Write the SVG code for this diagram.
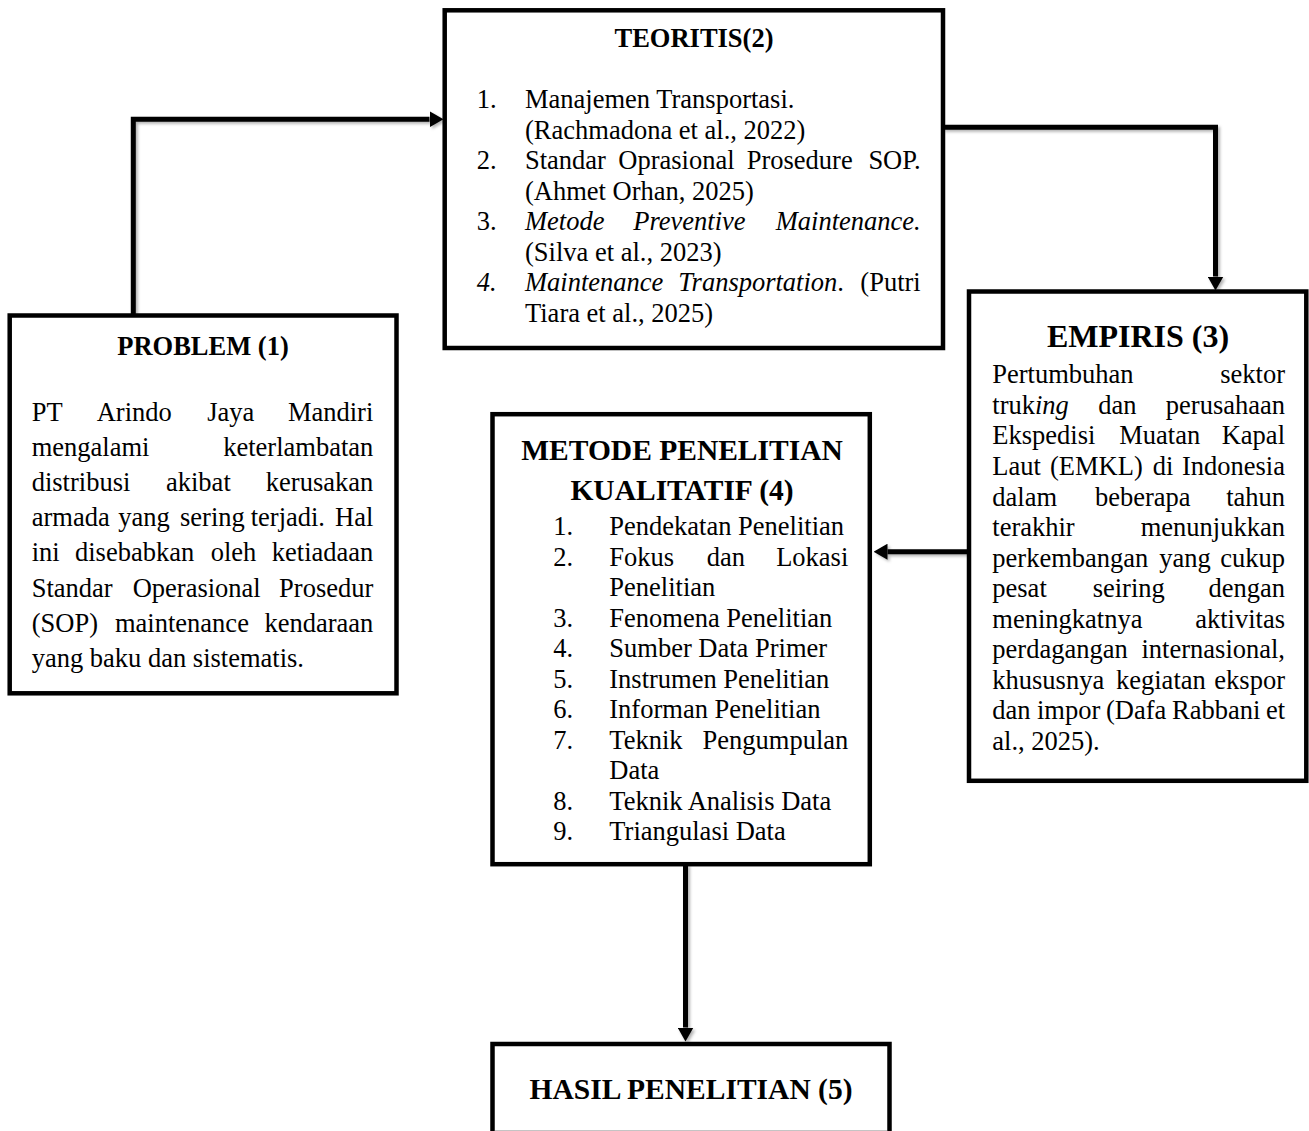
<svg xmlns="http://www.w3.org/2000/svg" width="1309" height="1131" viewBox="0 0 1309 1131">
<style>
.box{fill:#fff;stroke:#000;stroke-width:4.5}
.t{font-family:"Liberation Serif","Times New Roman",serif;font-size:26.5px;fill:#000}
.b{font-weight:bold}
.i{font-style:italic}
.e{text-anchor:end}
.m{text-anchor:middle}
.c{fill:none;stroke:#000;stroke-width:5;stroke-linejoin:miter}
</style>
<defs>
<marker id="ah" markerUnits="userSpaceOnUse" viewBox="0 0 14 16" refX="0" refY="8" markerWidth="14" markerHeight="16" orient="auto">
<path d="M0,0 L14,8 L0,16 z" fill="#000"/>
</marker>
<filter id="sh" x="-10%" y="-10%" width="120%" height="120%">
<feDropShadow dx="2" dy="2" stdDeviation="1.5" flood-color="#000" flood-opacity="0.3"/>
</filter>
</defs>
<rect width="1309" height="1131" fill="#fff"/>

<g id="connectors" filter="url(#sh)">
<path class="c" d="M133.3,315 V119.3 H429.5" marker-end="url(#ah)"/>
<path class="c" d="M943,127.3 H1215.5 V276.5" marker-end="url(#ah)"/>
<path class="c" d="M968,551.7 H887.5" marker-end="url(#ah)"/>
<path class="c" d="M685.5,864 V1027.5" marker-end="url(#ah)"/>
</g>

<g id="teoritis">
<rect class="box" x="444.7" y="10.3" width="498.3" height="337.7"/>
<text class="t b m" x="694" y="47.3">TEORITIS(2)</text>
<text class="t" x="476.7" y="108.3">1.</text>
<text class="t" x="525" y="108.3">Manajemen Transportasi.</text>
<text class="t" x="525" y="138.8">(Rachmadona et al., 2022)</text>
<text class="t" x="476.7" y="169.3">2.</text>
<text class="t" y="169.3"><tspan x="525">Standar</tspan><tspan x="618.3">Oprasional</tspan><tspan x="746.7">Prosedure</tspan><tspan class="e" x="920.7">SOP.</tspan></text>
<text class="t" x="525" y="199.8">(Ahmet Orhan, 2025)</text>
<text class="t" x="476.7" y="230.3">3.</text>
<text class="t i" y="230.3"><tspan x="525">Metode</tspan><tspan x="633.3">Preventive</tspan><tspan class="e" x="920.7">Maintenance.</tspan></text>
<text class="t" x="525" y="260.8">(Silva et al., 2023)</text>
<text class="t i" x="476.7" y="291.3">4.</text>
<text class="t" y="291.3"><tspan class="i" x="525">Maintenance</tspan><tspan class="i" x="678.3">Transportation</tspan><tspan>.</tspan><tspan class="e" x="920.7">(Putri</tspan></text>
<text class="t" x="525" y="321.8">Tiara et al., 2025)</text>
</g>

<g id="problem">
<rect class="box" x="9.7" y="315.5" width="386.8" height="377.8"/>
<text class="t b m" x="203" y="354.5">PROBLEM (1)</text>
<text class="t" y="421"><tspan x="31.7">PT</tspan><tspan x="96.7">Arindo</tspan><tspan x="207.3">Jaya</tspan><tspan class="e" x="373.3">Mandiri</tspan></text>
<text class="t" y="456.1"><tspan x="31.7">mengalami</tspan><tspan class="e" x="373.3">keterlambatan</tspan></text>
<text class="t" y="491.2"><tspan x="31.7">distribusi</tspan><tspan x="166">akibat</tspan><tspan class="e" x="373.3">kerusakan</tspan></text>
<text class="t" y="526.3"><tspan x="31.7">armada</tspan><tspan x="118.3">yang</tspan><tspan x="180">sering</tspan><tspan x="250.7">terjadi.</tspan><tspan class="e" x="373.3">Hal</tspan></text>
<text class="t" y="561.4"><tspan x="31.7">ini</tspan><tspan x="75">disebabkan</tspan><tspan x="210.7">oleh</tspan><tspan class="e" x="373.3">ketiadaan</tspan></text>
<text class="t" y="596.5"><tspan x="31.7">Standar</tspan><tspan x="132.7">Operasional</tspan><tspan class="e" x="373.3">Prosedur</tspan></text>
<text class="t" y="631.6"><tspan x="31.7">(SOP)</tspan><tspan x="115">maintenance</tspan><tspan class="e" x="373.3">kendaraan</tspan></text>
<text class="t" x="31.7" y="666.7">yang baku dan sistematis.</text>
</g>

<g id="empiris">
<rect class="box" x="969" y="291.5" width="337.3" height="489.3"/>
<text class="t b m" x="1138" y="346.7" style="font-size:32px">EMPIRIS (3)</text>
<text class="t" y="383.3"><tspan x="992.3">Pertumbuhan</tspan><tspan class="e" x="1285">sektor</tspan></text>
<text class="t" y="413.9"><tspan x="992.3">truk</tspan><tspan class="i">ing</tspan><tspan x="1098.3">dan</tspan><tspan class="e" x="1285">perusahaan</tspan></text>
<text class="t" y="444.4"><tspan x="992.3">Ekspedisi</tspan><tspan x="1119.3">Muatan</tspan><tspan class="e" x="1285">Kapal</tspan></text>
<text class="t" y="475"><tspan x="992.3">Laut</tspan><tspan x="1050">(EMKL)</tspan><tspan x="1152.7">di</tspan><tspan class="e" x="1285">Indonesia</tspan></text>
<text class="t" y="505.5"><tspan x="992.3">dalam</tspan><tspan x="1095">beberapa</tspan><tspan class="e" x="1285">tahun</tspan></text>
<text class="t" y="536.1"><tspan x="992.3">terakhir</tspan><tspan class="e" x="1285">menunjukkan</tspan></text>
<text class="t" y="566.6"><tspan x="992.3">perkembangan</tspan><tspan x="1159.3">yang</tspan><tspan class="e" x="1285">cukup</tspan></text>
<text class="t" y="597.2"><tspan x="992.3">pesat</tspan><tspan x="1092.7">seiring</tspan><tspan class="e" x="1285">dengan</tspan></text>
<text class="t" y="627.7"><tspan x="992.3">meningkatnya</tspan><tspan class="e" x="1285">aktivitas</tspan></text>
<text class="t" y="658.3"><tspan x="992.3">perdagangan</tspan><tspan class="e" x="1285">internasional,</tspan></text>
<text class="t" y="688.8"><tspan x="992.3">khususnya</tspan><tspan x="1116">kegiatan</tspan><tspan class="e" x="1285">ekspor</tspan></text>
<text class="t" y="719.4"><tspan x="992.3">dan</tspan><tspan x="1037">impor</tspan><tspan x="1106">(Dafa</tspan><tspan x="1172">Rabbani</tspan><tspan class="e" x="1285">et</tspan></text>
<text class="t" x="992.3" y="749.9">al., 2025).</text>
</g>

<g id="metode">
<rect class="box" x="492.5" y="414.2" width="377.3" height="450"/>
<text class="t b m" x="682" y="460" style="font-size:29.5px">METODE PENELITIAN</text>
<text class="t b m" x="682" y="500" style="font-size:29.5px">KUALITATIF (4)</text>
<text class="t" x="553.3" y="535">1.</text>
<text class="t" x="609.3" y="535">Pendekatan Penelitian</text>
<text class="t" x="553.3" y="565.5">2.</text>
<text class="t" y="565.5"><tspan x="609.3">Fokus</tspan><tspan x="706.7">dan</tspan><tspan class="e" x="848.3">Lokasi</tspan></text>
<text class="t" x="609.3" y="596">Penelitian</text>
<text class="t" x="553.3" y="626.5">3.</text>
<text class="t" x="609.3" y="626.5">Fenomena Penelitian</text>
<text class="t" x="553.3" y="657">4.</text>
<text class="t" x="609.3" y="657">Sumber Data Primer</text>
<text class="t" x="553.3" y="687.5">5.</text>
<text class="t" x="609.3" y="687.5">Instrumen Penelitian</text>
<text class="t" x="553.3" y="718">6.</text>
<text class="t" x="609.3" y="718">Informan Penelitian</text>
<text class="t" x="553.3" y="748.5">7.</text>
<text class="t" y="748.5"><tspan x="609.3">Teknik</tspan><tspan class="e" x="848.3">Pengumpulan</tspan></text>
<text class="t" x="609.3" y="779">Data</text>
<text class="t" x="553.3" y="809.5">8.</text>
<text class="t" x="609.3" y="809.5">Teknik Analisis Data</text>
<text class="t" x="553.3" y="840">9.</text>
<text class="t" x="609.3" y="840">Triangulasi Data</text>
</g>

<g id="hasil">
<rect class="box" x="492.5" y="1044" width="397" height="110"/>
<line x1="495" y1="1130.5" x2="887" y2="1130.5" stroke="#c4c4c4" stroke-width="1"/>
<text class="t b m" x="691" y="1099.3" style="font-size:29.5px">HASIL PENELITIAN (5)</text>
</g>
</svg>
